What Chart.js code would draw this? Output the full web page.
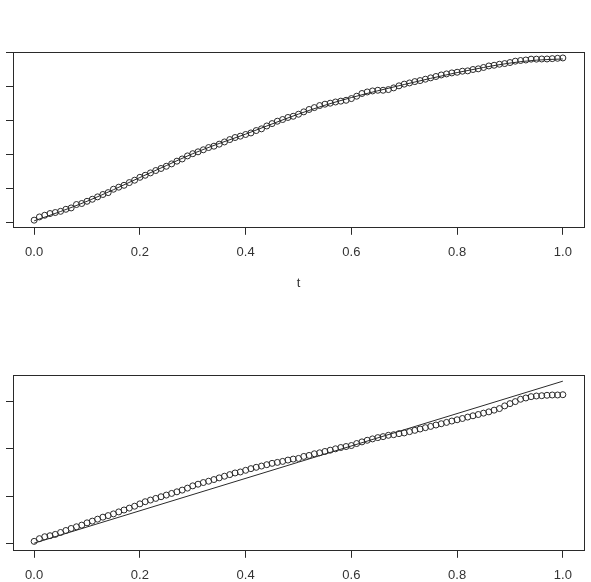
<!DOCTYPE html>
<html>
<head>
<meta charset="utf-8">
<script src="https://cdn.jsdelivr.net/npm/chart.js@4.4.1/dist/chart.umd.min.js"></script>
<style>
  html, body { margin: 0; padding: 0; background: #fff; overflow: hidden; }
  .panel { position: absolute; left: 0; width: 591px; height: 300px; }
  #panel-top { top: 0; }
  #panel-bottom { top: 323px; }
</style>
</head>
<body>
<div class="panel" id="panel-top"><canvas id="chart-top"></canvas></div>
<div class="panel" id="panel-bottom"><canvas id="chart-bottom"></canvas></div>
<script>
// x values of the sampled points (t)
const T_VALUES = [
  0.00, 0.01, 0.02, 0.03, 0.04, 0.05, 0.06, 0.07, 0.08, 0.09,
  0.10, 0.11, 0.12, 0.13, 0.14, 0.15, 0.16, 0.17, 0.18, 0.19,
  0.20, 0.21, 0.22, 0.23, 0.24, 0.25, 0.26, 0.27, 0.28, 0.29,
  0.30, 0.31, 0.32, 0.33, 0.34, 0.35, 0.36, 0.37, 0.38, 0.39,
  0.40, 0.41, 0.42, 0.43, 0.44, 0.45, 0.46, 0.47, 0.48, 0.49,
  0.50, 0.51, 0.52, 0.53, 0.54, 0.55, 0.56, 0.57, 0.58, 0.59,
  0.60, 0.61, 0.62, 0.63, 0.64, 0.65, 0.66, 0.67, 0.68, 0.69,
  0.70, 0.71, 0.72, 0.73, 0.74, 0.75, 0.76, 0.77, 0.78, 0.79,
  0.80, 0.81, 0.82, 0.83, 0.84, 0.85, 0.86, 0.87, 0.88, 0.89,
  0.90, 0.91, 0.92, 0.93, 0.94, 0.95, 0.96, 0.97, 0.98, 0.99,
  1.00
];

// top panel: observed points
const TOP_POINTS = [
  0.014, 0.033, 0.043, 0.053, 0.059, 0.066, 0.078, 0.086, 0.106, 0.112,
  0.125, 0.137, 0.151, 0.165, 0.176, 0.196, 0.208, 0.219, 0.235, 0.249,
  0.266, 0.278, 0.292, 0.306, 0.318, 0.331, 0.345, 0.361, 0.374, 0.392,
  0.405, 0.416, 0.428, 0.441, 0.449, 0.461, 0.474, 0.488, 0.500, 0.508,
  0.518, 0.527, 0.541, 0.551, 0.568, 0.582, 0.596, 0.606, 0.618, 0.625,
  0.637, 0.651, 0.665, 0.676, 0.688, 0.696, 0.702, 0.709, 0.714, 0.719,
  0.729, 0.743, 0.759, 0.768, 0.774, 0.778, 0.778, 0.782, 0.792, 0.804,
  0.814, 0.821, 0.829, 0.835, 0.843, 0.851, 0.859, 0.868, 0.874, 0.880,
  0.884, 0.890, 0.892, 0.900, 0.904, 0.912, 0.921, 0.925, 0.931, 0.935,
  0.941, 0.949, 0.953, 0.956, 0.961, 0.961, 0.962, 0.962, 0.964, 0.966,
  0.968
];

// top panel: smooth curve
const TOP_LINE_T = [0, 0.05, 0.1, 0.15, 0.2, 0.25, 0.3, 0.35, 0.4, 0.45, 0.5,
                    0.55, 0.6, 0.65, 0.7, 0.75, 0.8, 0.85, 0.9, 0.95, 1.0];
const TOP_LINE = [0.010, 0.065, 0.125, 0.193, 0.265, 0.335, 0.405, 0.465, 0.520, 0.580, 0.638,
                  0.690, 0.735, 0.775, 0.812, 0.848, 0.882, 0.912, 0.938, 0.955, 0.962];

// bottom panel: observed points
const BOTTOM_POINTS = [
  0.048, 0.105, 0.146, 0.167, 0.195, 0.236, 0.278, 0.320, 0.356, 0.391,
  0.439, 0.475, 0.517, 0.559, 0.592, 0.628, 0.670, 0.710, 0.750, 0.790,
  0.840, 0.885, 0.920, 0.955, 0.990, 1.025, 1.060, 1.094, 1.130, 1.172,
  1.220, 1.255, 1.290, 1.318, 1.353, 1.388, 1.423, 1.457, 1.492, 1.513,
  1.548, 1.583, 1.611, 1.638, 1.667, 1.695, 1.715, 1.736, 1.764, 1.785,
  1.799, 1.841, 1.862, 1.897, 1.918, 1.946, 1.973, 2.002, 2.029, 2.050,
  2.071, 2.113, 2.148, 2.182, 2.211, 2.238, 2.259, 2.287, 2.300, 2.322,
  2.337, 2.364, 2.392, 2.420, 2.448, 2.475, 2.504, 2.531, 2.559, 2.588,
  2.615, 2.642, 2.672, 2.699, 2.726, 2.755, 2.782, 2.818, 2.851, 2.908,
  2.956, 2.998, 3.048, 3.075, 3.103, 3.117, 3.123, 3.132, 3.138, 3.138,
  3.144
];

// bottom panel: straight reference line
const BOTTOM_LINE_T = [0, 1];
const BOTTOM_LINE = [0.01, 3.43];

const X_TICKS = [0, 0.2, 0.4, 0.6, 0.8, 1.0];
const TOP_Y_TICKS = [0, 0.2, 0.4, 0.6, 0.8, 1.0];
const BOTTOM_Y_TICKS = [0, 1, 2, 3];

const INK = "#2a2a2a";
const TEXT = "#333333";
const FONT = "'Liberation Sans Narrow', 'Liberation Sans', sans-serif";

const pairs = (xs, ys) => xs.map((x, i) => ({ x: x, y: ys[i] }));

// R-style box around the plot region
const boxPlugin = {
    id: "box",
    afterDraw(chart) {
        const { ctx, chartArea: a } = chart;
        ctx.save();
        ctx.strokeStyle = INK;
        ctx.lineWidth = 1;
        ctx.strokeRect(Math.round(a.left) + 0.5, Math.round(a.top) + 0.5,
                       Math.round(a.right - a.left), Math.round(a.bottom - a.top));
        ctx.restore();
    }
};

function makePanel(canvasId, points, lineT, lineY, yMin, yMax, yTicks, smooth) {
    return new Chart(document.getElementById(canvasId).getContext("2d"), {
        type: "line",
        data: {
            datasets: [
                {
                    data: pairs(T_VALUES, points),
                    showLine: false,
                    pointRadius: 3,
                    pointBorderWidth: 1,
                    pointBorderColor: INK,
                    pointBackgroundColor: "rgba(0,0,0,0)",
                },
                {
                    data: pairs(lineT, lineY),
                    borderColor: INK,
                    borderWidth: 1,
                    pointRadius: 0,
                    fill: false,
                    cubicInterpolationMode: smooth ? "monotone" : "default",
                }
            ]
        },
        options: {
            responsive: true,
            maintainAspectRatio: false,
            animation: false,
            devicePixelRatio: 1,
            layout: { padding: { top: 52, left: 6, right: 7, bottom: 5 } },
            plugins: { legend: { display: false }, tooltip: { enabled: false } },
            scales: {
                x: {
                    type: "linear",
                    min: -0.04,
                    max: 1.04,
                    afterBuildTicks: s => { s.ticks = X_TICKS.map(v => ({ value: v })); },
                    ticks: {
                        callback: v => Number(v).toFixed(1),
                        font: { family: FONT, size: 13, style: "condensed" },
                        color: TEXT,
                        padding: 10,
                        maxRotation: 0,
                        autoSkip: false,
                    },
                    grid: { drawOnChartArea: false, drawTicks: true, tickLength: 8, color: INK },
                    border: { display: false },
                    title: {
                        display: true,
                        text: "t",
                        font: { family: FONT, size: 13, style: "condensed" },
                        color: TEXT,
                        padding: { top: 5, bottom: 4 },
                    }
                },
                y: {
                    type: "linear",
                    min: yMin,
                    max: yMax,
                    afterBuildTicks: s => { s.ticks = yTicks.map(v => ({ value: v })); },
                    ticks: { display: false },
                    grid: { drawOnChartArea: false, drawTicks: true, tickLength: 7, color: INK },
                    border: { display: false },
                }
            }
        },
        plugins: [boxPlugin]
    });
}

makePanel("chart-top", TOP_POINTS, TOP_LINE_T, TOP_LINE, -0.025, 1.003, TOP_Y_TICKS, true);
makePanel("chart-bottom", BOTTOM_POINTS, BOTTOM_LINE_T, BOTTOM_LINE, -0.13, 3.56, BOTTOM_Y_TICKS, false);
</script>
</body>
</html>
